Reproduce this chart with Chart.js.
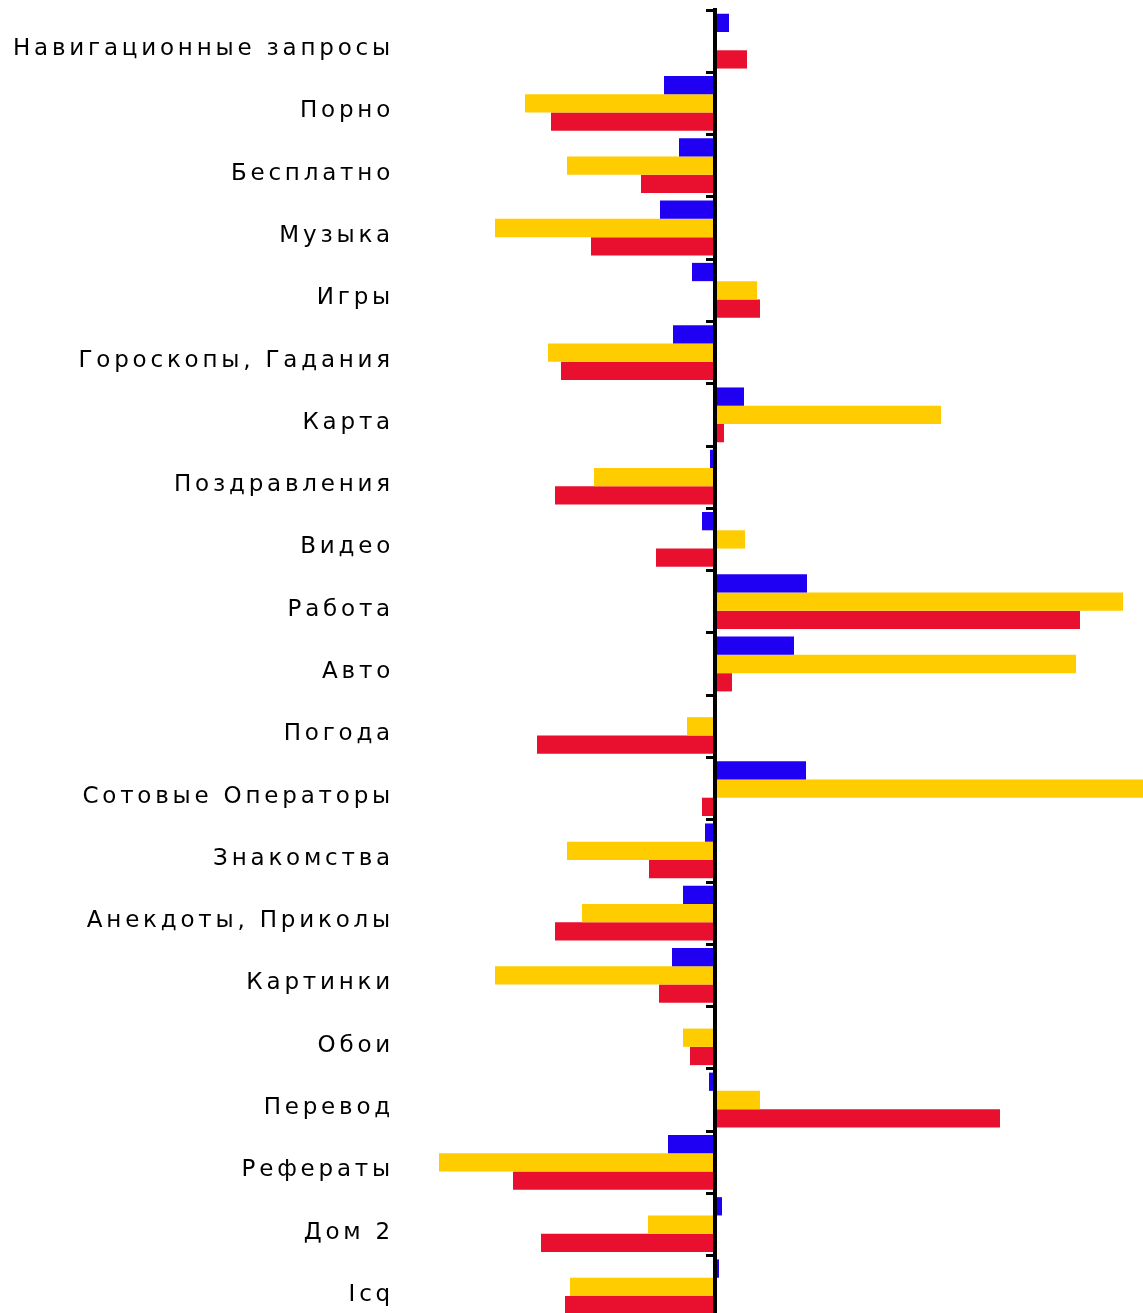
<!DOCTYPE html>
<html>
<head>
<meta charset="utf-8">
<script src="https://cdn.jsdelivr.net/npm/chart.js@4"></script>
<style>
  html, body { margin: 0; padding: 0; background: #fff; overflow: hidden; }
  canvas { display: block; }
</style>
</head>
<body>
<canvas id="queries" width="1143" height="1320"></canvas>
<script>
const categories = [
  "Навигационные запросы", "Порно", "Бесплатно", "Музыка", "Игры",
  "Гороскопы, Гадания", "Карта", "Поздравления", "Видео", "Работа",
  "Авто", "Погода", "Сотовые Операторы", "Знакомства", "Анекдоты, Приколы",
  "Картинки", "Обои", "Перевод", "Рефераты", "Дом 2", "Icq",
];
const blueValues = [14, -51, -36, -55, -23, -42, 29, -5, -13, 92, 79, 0, 91, -10, -32, -43, 0, -6, -47, 7, 4];
const yellowValues = [0, -190, -148, -220, 42, -167, 226, -121, 30, 408, 361, -28, 460, -148, -133, -220, -32, 45, -276, -67, -145];
const redValues = [32, -164, -74, -124, 45, -154, 9, -160, -59, 365, 17, -178, -13, -66, -160, -56, -25, 285, -202, -174, -150];

// The labels in the original are widely spaced; Chart.js has no option
// for that, so set it on the context before each draw.
const letterSpacing = {
  id: "letterSpacing",
  beforeDraw(chart) {
    chart.ctx.letterSpacing = "3.8px";
  },
};

// keep the first/last labels from pushing the plot area inwards
function noEndPadding(scale) {
  scale.paddingTop = 0;
  scale.paddingBottom = 0;
}

new Chart(document.getElementById("queries"), {
  type: "bar",
  data: {
    labels: categories,
    datasets: [
      { data: blueValues, backgroundColor: "#1f00f2" },
      { data: yellowValues, backgroundColor: "#ffcc00" },
      { data: redValues, backgroundColor: "#e8102e" },
    ],
  },
  options: {
    indexAxis: "y",
    responsive: false,
    animation: false,
    layout: { padding: { top: 10, bottom: 2, left: 0, right: 0 } },
    datasets: { bar: { categoryPercentage: 0.88, barPercentage: 1 } },
    plugins: { legend: { display: false }, tooltip: { enabled: false } },
    scales: {
      x: { type: "linear", display: false, min: -300, max: 428 },
      y: {
        position: "left",
        grid: { display: false, drawTicks: false },
        border: { display: false },
        ticks: {
          color: "#000",
          padding: 21,
          labelOffset: 8,
          font: { family: "'DejaVu Sans', sans-serif", size: 23 },
        },
        afterFit(scale) {
          scale.width = 415;
          noEndPadding(scale);
        },
      },
      // zero line with the small category ticks, drawn over the bars
      axisLine: {
        axis: "y",
        type: "category",
        position: { x: 0 },
        offset: true,
        grid: {
          z: 1,
          offset: true,
          drawOnChartArea: false,
          drawTicks: true,
          tickLength: 7,
          color: "#000",
          lineWidth: 3,
        },
        border: { z: 1, display: true, color: "#000", width: 4 },
        ticks: { display: false },
        afterFit: noEndPadding,
      },
    },
  },
  plugins: [letterSpacing],
});
</script>
</body>
</html>
